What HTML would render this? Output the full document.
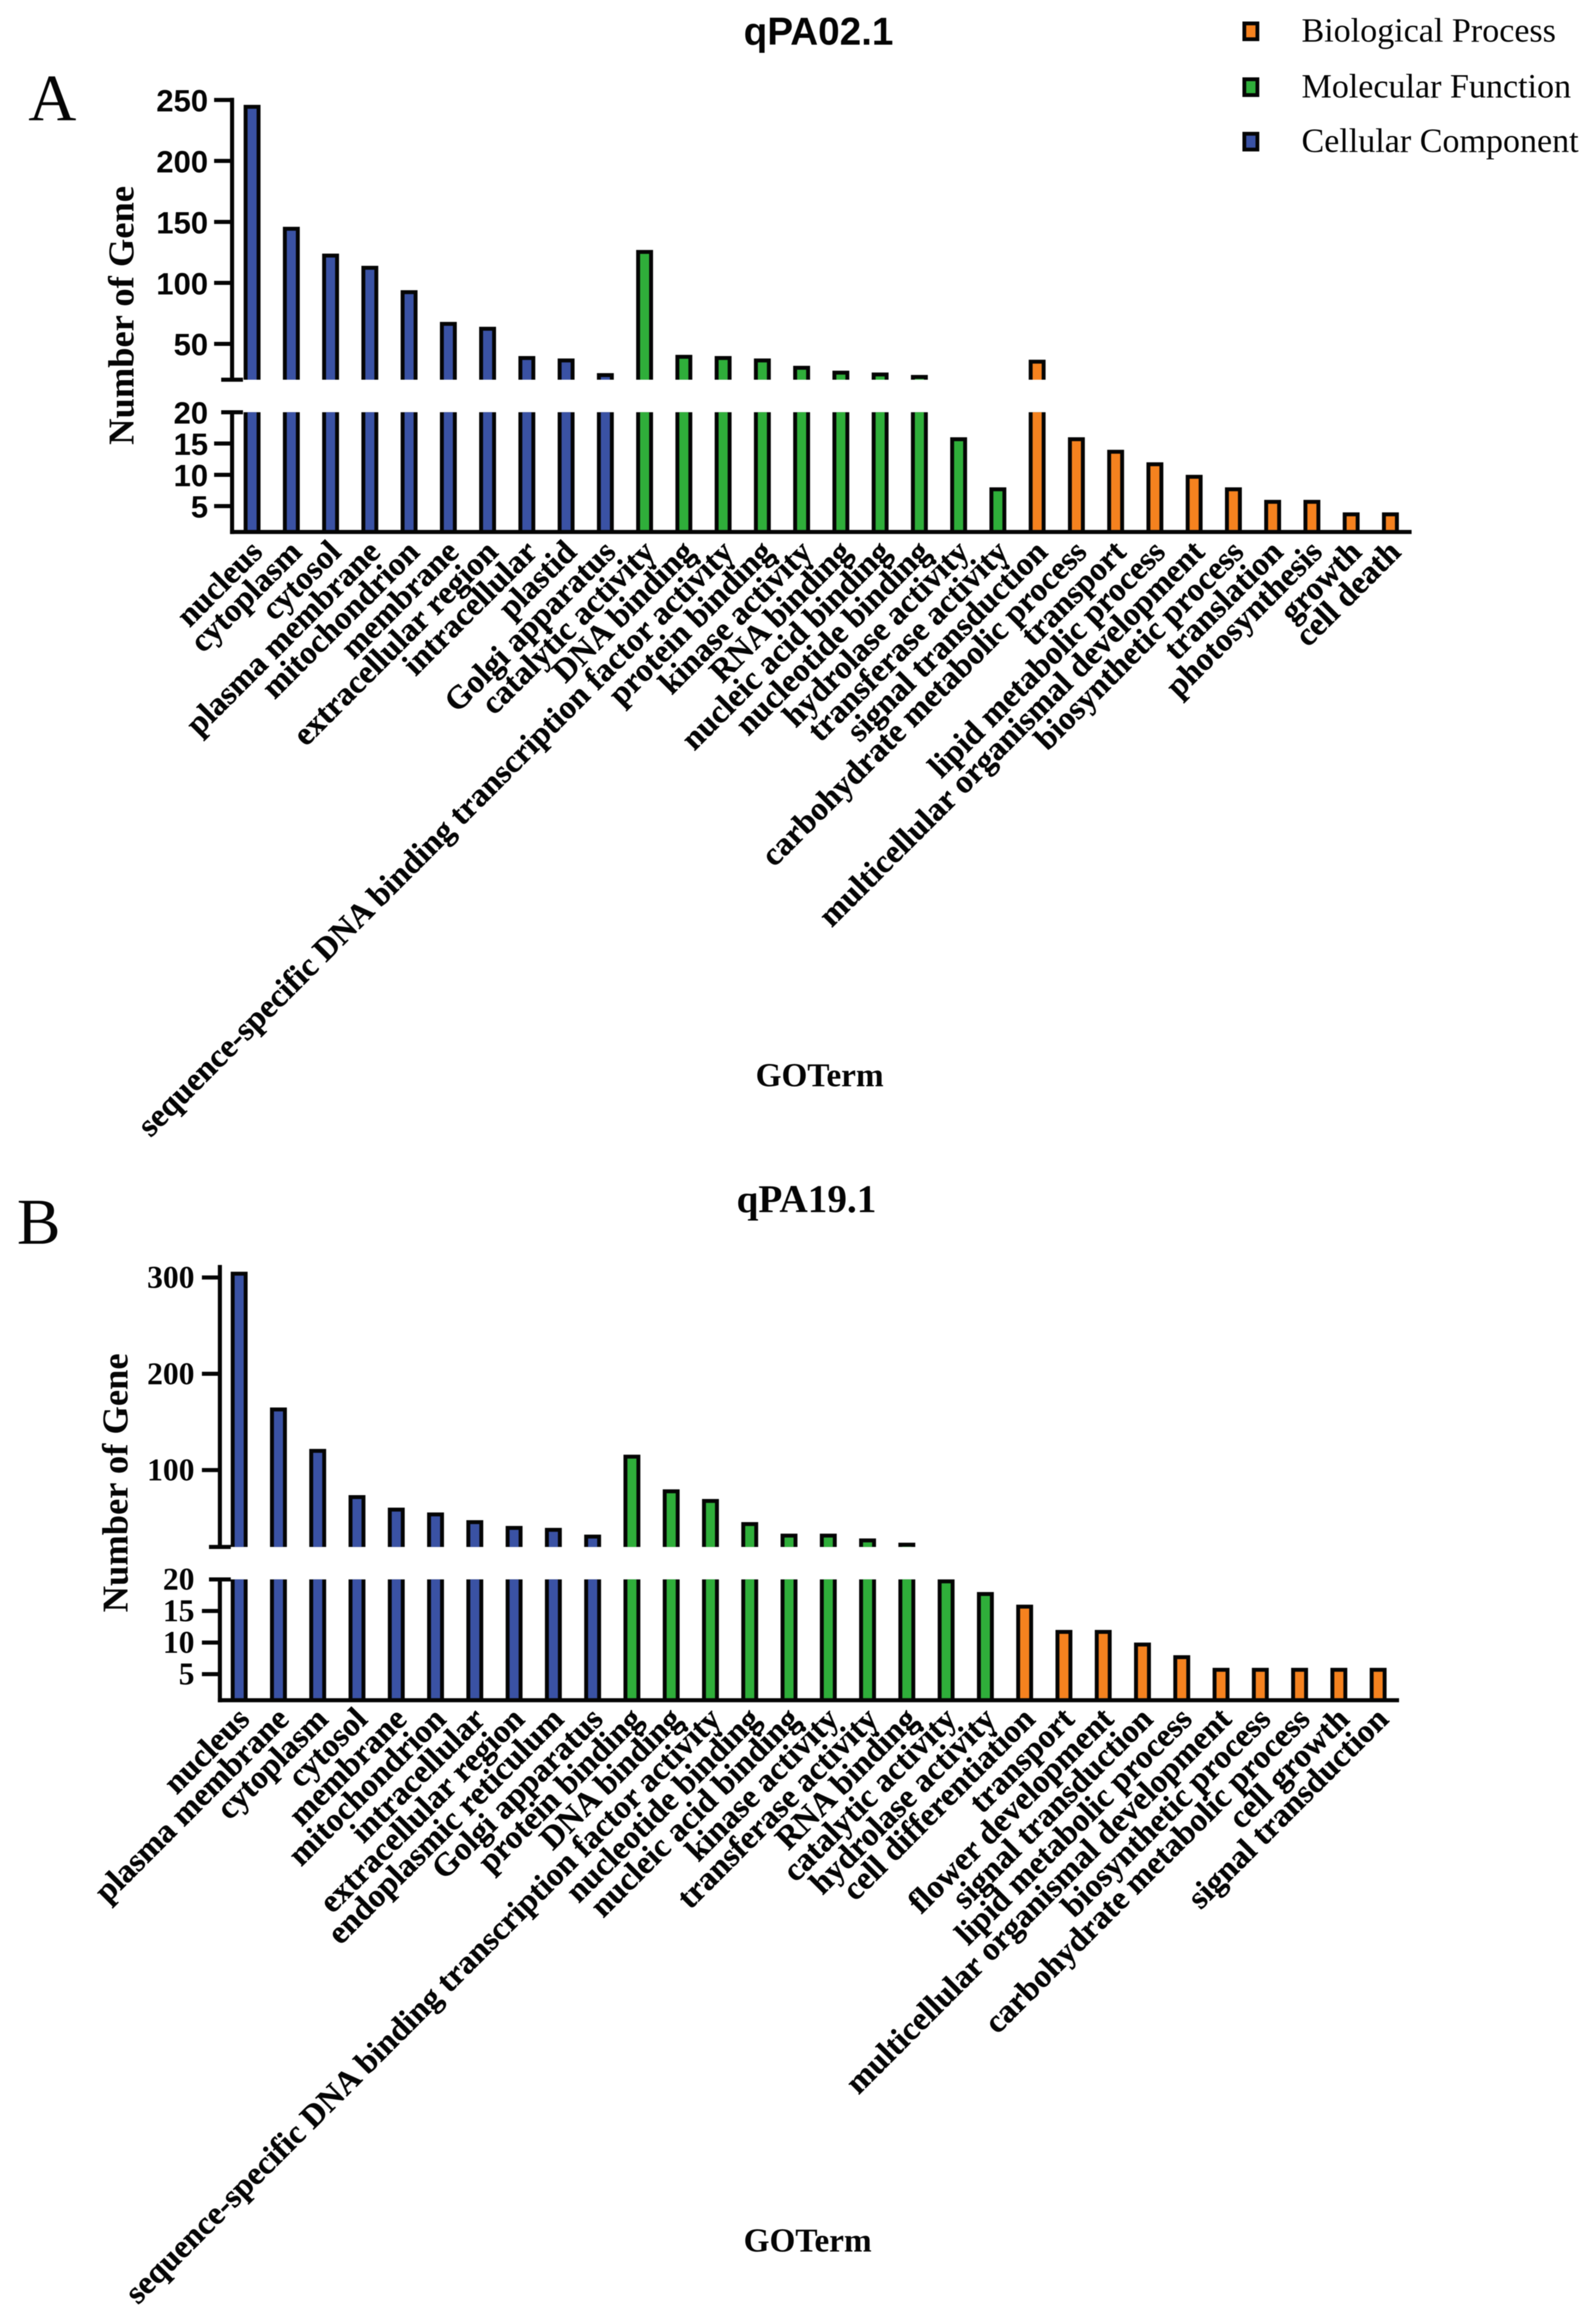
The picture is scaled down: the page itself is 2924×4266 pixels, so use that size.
<!DOCTYPE html>
<html lang="en">
<head>
<meta charset="utf-8">
<title>GO term bar charts</title>
<style>
html,body{margin:0;padding:0;background:#fff;}
svg{display:block;filter:blur(0.9px);}
</style>
</head>
<body>
<svg id="fig" xmlns="http://www.w3.org/2000/svg" width="2924" height="4266" viewBox="0 0 2924 4266">
<rect x="0" y="0" width="2924" height="4266" fill="#ffffff"/>
</svg>
<script>
// ---- Panel A data ----
const categoriesA = ["nucleus","cytoplasm","cytosol","plasma membrane","mitochondrion","membrane","extracellular region","intracellular","plastid","Golgi apparatus","catalytic activity","DNA binding","sequence-specific DNA binding transcription factor activity","protein binding","kinase activity","RNA binding","nucleic acid binding","nucleotide binding","hydrolase activity","transferase activity","signal transduction","carbohydrate metabolic process","transport","lipid metabolic process","multicellular organismal development","biosynthetic process","translation","photosynthesis","growth","cell death"];
const valuesA = [246,146,124,114,94,68,64,40,38,26,127,41,40,38,32,28,26.5,24.5,16,8,37,16,14,12,10,8,6,6,4,4];
const groupsA = ["C","C","C","C","C","C","C","C","C","C","M","M","M","M","M","M","M","M","M","M","B","B","B","B","B","B","B","B","B","B"];
const upperTicksA = [50,100,150,200,250];
const lowerTicksA = [5,10,15,20];

// ---- Panel B data ----
const categoriesB = ["nucleus","plasma membrane","cytoplasm","cytosol","membrane","mitochondrion","intracellular","extracellular region","endoplasmic reticulum","Golgi apparatus","protein binding","DNA binding","sequence-specific DNA binding transcription factor activity","nucleotide binding","nucleic acid binding","kinase activity","transferase activity","RNA binding","catalytic activity","hydrolase activity","cell differentiation","transport","flower development","signal transduction","lipid metabolic process","multicellular organismal development","biosynthetic process","carbohydrate metabolic process","cell growth","signal transduction"];
const valuesB = [306,165,122,74,61,56,48,42,40,33,116,80,70,46,34,34,29,24.6,20,18,16,12,12,10,8,6,6,6,6,6];
const groupsB = ["C","C","C","C","C","C","C","C","C","C","M","M","M","M","M","M","M","M","M","M","B","B","B","B","B","B","B","B","B","B"];
const upperTicksB = [100,200,300];
const lowerTicksB = [5,10,15,20];

// ---- Legend ----
const legendLabels = ["Biological Process","Molecular Function","Cellular Component"];
const legendGroups = ["B","M","C"];

const COLORS = {B:"#f5821f", M:"#2fae3a", C:"#3a52a4"};
const SANS = '"Liberation Sans", sans-serif';
const SERIF = '"Liberation Serif", serif';
const NS = "http://www.w3.org/2000/svg";
const svg = document.getElementById("fig");
const INK = "#050505";

function make(tag, attrs, parent){
  const e = document.createElementNS(NS, tag);
  for (const k in attrs) e.setAttribute(k, attrs[k]);
  (parent || svg).appendChild(e);
  return e;
}
function linear(d0, d1, r0, r1){
  return v => r0 + (v - d0) * (r1 - r0) / (d1 - d0);
}
function slug(s){ return s.toLowerCase().replace(/[^a-z0-9]+/g, "-"); }

function drawPanel(p){
  const g = make("g", {});
  
  

  const yU = linear(p.breakVal, p.upperMax, p.upperBottom, p.upperTop);
  const yL = linear(p.lowerMin, 20, p.baseline, p.lowerTop);
  const xAt = i => p.firstX + i * p.stepX;
  const sw = 7.2, bw = 31;

  // bars
  p.values.forEach((v, i) => {
    const cx = xAt(i);
    const col = COLORS[p.groups[i]];
    const bar = make("g", {}, g);
    
    
    const lowOpen = v > 20;
    const lowTop = lowOpen ? p.lowerTop : yL(v);
    make("rect", {x:cx-bw/2, y:lowTop, width:bw, height:p.baseline-lowTop, fill:INK}, bar);
    make("rect", {x:cx-bw/2+sw, y:lowTop+(lowOpen?0:sw), width:bw-2*sw, height:Math.max(0,p.baseline-lowTop-(lowOpen?0:sw)), fill:col}, bar);
    if (v > p.breakVal){
      const t = yU(v);
      make("rect", {x:cx-bw/2, y:t, width:bw, height:p.upperBottom-t, fill:INK}, bar);
      make("rect", {x:cx-bw/2+sw, y:t+sw, width:bw-2*sw, height:Math.max(0,p.upperBottom-t-sw), fill:col}, bar);
    }
  });

  // axes
  const ax = make("g", {stroke:INK, "stroke-width":7.5, fill:"none"}, g);
  
  
  make("line", {x1:p.axisX, x2:p.axisX, y1:p.axisTop, y2:p.upperBottom}, ax);
  make("line", {x1:p.axisX, x2:p.axisX, y1:p.lowerTop, y2:p.baseline+3.7}, ax);
  make("line", {x1:p.axisX-3.7, x2:p.axisEnd, y1:p.baseline, y2:p.baseline}, ax);
  make("line", {x1:p.axisX-20, x2:p.axisX+20, y1:p.upperBottom, y2:p.upperBottom}, ax);
  make("line", {x1:p.axisX-20, x2:p.axisX+20, y1:p.lowerTop, y2:p.lowerTop}, ax);

  // ticks
  const tickLabel = (val, y) => {
    const t = make("text", {
      x:p.tickLabelX, y:y + p.tickDy,
      "text-anchor":"end",
      "font-family":p.tickFont, "font-weight":"bold", "font-size":p.tickSize,
      fill:INK
    }, g);
    t.textContent = String(val);
    
    
  };
  p.upperTicks.forEach(v => {
    const y = yU(v);
    make("line", {x1:p.axisX-p.tickLen, x2:p.axisX, y1:y, y2:y}, ax);
    tickLabel(v, y);
  });
  p.lowerTicks.forEach(v => {
    const y = yL(v);
    if (v !== 20) make("line", {x1:p.axisX-p.tickLen, x2:p.axisX, y1:y, y2:y}, ax);
    tickLabel(v, y);
  });

  // category labels
  p.categories.forEach((c, i) => {
    const lx = xAt(i) + p.labelDx;
    const ly = p.baseline + p.labelDy;
    const t = make("text", {
      "text-anchor":"end",
      "font-family":SERIF, "font-weight":"bold", "font-size":60,
      fill:INK, stroke:INK, "stroke-width":0.6,
      transform:"translate(" + lx + "," + ly + ") rotate(-45)"
    }, g);
    t.textContent = c;
    
    
  });

  // axis titles
  const yt = make("text", {
    "text-anchor":"middle",
    "font-family":SERIF, "font-weight":"bold", "font-size":67, fill:INK,
    transform:"translate(" + p.yTitleX + "," + p.yTitleY + ") rotate(-90)"
  }, g);
  yt.textContent = "Number of Gene";
  
  

  const xt = make("text", {
    x:p.xTitleX, y:p.xTitleY,
    "font-family":SERIF, "font-weight":"bold", "font-size":61, fill:INK
  }, g);
  xt.textContent = "GOTerm";
  
  

  // chart title
  const tt = make("text", {
    x:p.titleX, y:p.titleY,
    "font-family":p.titleFont, "font-weight":"bold", "font-size":p.titleSize, fill:INK
  }, g);
  tt.textContent = p.title;
  
  

  // panel letter
  const pl = make("text", {
    x:p.letterX, y:p.letterY,
    "font-family":SERIF, "font-size":p.letterSize, fill:INK
  }, g);
  pl.textContent = p.letter;
  
  
}

drawPanel({
  id:"panel-a", letter:"A", letterX:52, letterY:221, letterSize:122,
  title:"qPA02.1", titleFont:SANS, titleSize:71, titleX:1365, titleY:82,
  categories:categoriesA, values:valuesA, groups:groupsA,
  upperTicks:upperTicksA, lowerTicks:lowerTicksA,
  breakVal:20.6, upperMax:250, upperBottom:697, upperTop:183.5,
  lowerMin:0.87, lowerTop:756.7, baseline:976.5, axisX:426, axisTop:179.5, axisEnd:2591,
  firstX:462.7, stepX:72.05, tickLen:33, tickLabelX:382, tickDy:21,
  tickFont:SANS, tickSize:57,
  labelDx:22, labelDy:40,
  yTitleX:245, yTitleY:579, xTitleX:1387, xTitleY:1994
});

drawPanel({
  id:"panel-b", letter:"B", letterX:31, letterY:2283, letterSize:120,
  title:"qPA19.1", titleFont:SERIF, titleSize:72, titleX:1352, titleY:2225,
  categories:categoriesB, values:valuesB, groups:groupsB,
  upperTicks:upperTicksB, lowerTicks:lowerTicksB,
  breakVal:20.2, upperMax:300, upperBottom:2839.6, upperTop:2345,
  lowerMin:0.87, lowerTop:2899.2, baseline:3121, axisX:403.6, axisTop:2322, axisEnd:2568,
  firstX:439, stepX:72.09, tickLen:33, tickLabelX:357, tickDy:19,
  tickFont:SERIF, tickSize:58,
  labelDx:22, labelDy:38,
  yTitleX:234, yTitleY:2722, xTitleX:1365, xTitleY:4133
});

// legend
const legendY = [57.5, 160, 260];
legendLabels.forEach((label, i) => {
  const g = make("g", {});
  
  
  make("rect", {x:2296-12, y:legendY[i]-14.5, width:24, height:29, fill:COLORS[legendGroups[i]], stroke:INK, "stroke-width":7}, g);
  const t = make("text", {x:2389, y:legendY[i]+19, "font-family":SERIF, "font-size":62.5, fill:INK}, g);
  t.textContent = label;
  
  
});
</script>
</body>
</html>
